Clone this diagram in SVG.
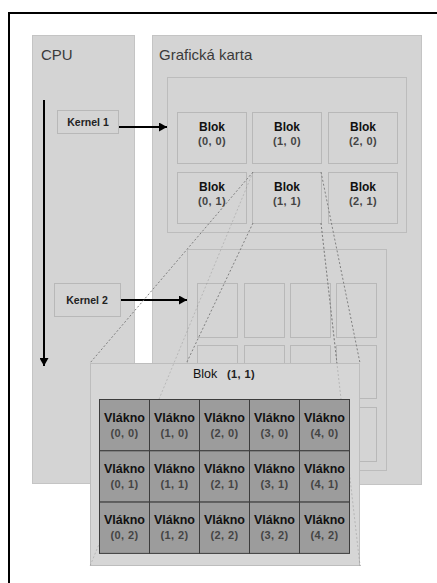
<svg xmlns="http://www.w3.org/2000/svg" width="437" height="583" viewBox="0 0 437 583">
<style>
.panel{fill:#d4d4d4;stroke:#c4c4c4;stroke-width:1}
.inner{fill:#d4d4d4;stroke:#bcbcbc;stroke-width:1}
.box{fill:#d4d4d4;stroke:#b8b8b8;stroke-width:1}
.title{font-family:"Liberation Sans",Arial,sans-serif;font-size:15px;fill:#3a3a3a}
.kern{font-family:"Liberation Sans",Arial,sans-serif;font-size:10.5px;font-weight:bold;fill:#222;text-anchor:middle}
.blk{font-family:"Liberation Sans",Arial,sans-serif;font-size:12px;font-weight:bold;fill:#111;text-anchor:middle}
.crd{font-family:"Liberation Sans",Arial,sans-serif;font-size:11px;font-weight:bold;fill:#444;text-anchor:middle;letter-spacing:0.4px}
.vl{font-family:"Liberation Sans",Arial,sans-serif;font-size:12.5px;font-weight:bold;fill:#111;text-anchor:middle}
.cell{fill:#9c9c9c;stroke:#3c3c3c;stroke-width:1}
.dash{stroke:#808080;stroke-width:1;stroke-dasharray:2,2;fill:none}
.arrow{stroke:#000;stroke-width:2;fill:none}
</style>
<defs>
<marker id="ah" markerUnits="userSpaceOnUse" markerWidth="8" markerHeight="9" refX="8" refY="4.5" orient="auto">
<path d="M0,0 L8,4.5 L0,9 z" fill="#000"/>
</marker>
</defs>
<rect x="0" y="0" width="437" height="583" fill="#fff"/>
<path d="M9,583 L9,13 L437,13" stroke="#000" stroke-width="2" fill="none"/>

<g id="cpu">
<rect class="panel" x="32.5" y="35.5" width="102" height="448"/>
<text class="title" x="41" y="60">CPU</text>
</g>
<g id="gpu">
<rect class="panel" x="152.5" y="35.5" width="269" height="449"/>
<text class="title" x="159" y="60">Grafická karta</text>
</g>
<g id="grid1">
<rect class="inner" x="167.5" y="77.5" width="239" height="155"/>
</g>
<g id="blok00"><rect class="box" x="177.5" y="112.5" width="69" height="51"/><text class="blk" x="212" y="131">Blok</text><text class="crd" x="212" y="145">(0, 0)</text></g>
<g id="blok10"><rect class="box" x="252.5" y="112.5" width="69" height="51"/><text class="blk" x="287" y="131">Blok</text><text class="crd" x="287" y="145">(1, 0)</text></g>
<g id="blok20"><rect class="box" x="328.5" y="112.5" width="69" height="51"/><text class="blk" x="363" y="131">Blok</text><text class="crd" x="363" y="145">(2, 0)</text></g>
<g id="blok01"><rect class="box" x="177.5" y="172.5" width="69" height="51"/><text class="blk" x="212" y="191">Blok</text><text class="crd" x="212" y="205">(0, 1)</text></g>
<g id="blok11"><rect class="box" x="252.5" y="172.5" width="69" height="51"/><text class="blk" x="287" y="191">Blok</text><text class="crd" x="287" y="205">(1, 1)</text></g>
<g id="blok21"><rect class="box" x="328.5" y="172.5" width="69" height="51"/><text class="blk" x="363" y="191">Blok</text><text class="crd" x="363" y="205">(2, 1)</text></g>

<g id="grid2">
<rect class="inner" x="187.5" y="249.5" width="199" height="221"/>
<rect class="box" x="197.5" y="283.5" width="40" height="54"/>
<rect class="box" x="244.5" y="283.5" width="40" height="54"/>
<rect class="box" x="290.5" y="283.5" width="40" height="54"/>
<rect class="box" x="336.5" y="283.5" width="40" height="54"/>
<rect class="box" x="197.5" y="345.5" width="40" height="53"/>
<rect class="box" x="244.5" y="345.5" width="40" height="53"/>
<rect class="box" x="290.5" y="345.5" width="40" height="53"/>
<rect class="box" x="336.5" y="345.5" width="40" height="53"/>
<rect class="box" x="197.5" y="407.5" width="40" height="54"/>
<rect class="box" x="244.5" y="407.5" width="40" height="54"/>
<rect class="box" x="290.5" y="407.5" width="40" height="54"/>
<rect class="box" x="336.5" y="407.5" width="40" height="54"/>
</g>

<g id="kernel1"><rect class="box" x="57.5" y="110.5" width="61" height="23"/><text class="kern" x="88" y="126">Kernel 1</text></g>
<g id="kernel2"><rect class="box" x="54.5" y="283.5" width="66" height="33"/><text class="kern" x="87" y="304">Kernel 2</text></g>

<g id="connectors">
<line class="arrow" x1="44" y1="100" x2="44" y2="366" stroke-width="1.6" marker-end="url(#ah)"/>
<line class="arrow" x1="119" y1="127" x2="167" y2="127" marker-end="url(#ah)"/>
<line class="arrow" x1="121" y1="300" x2="187" y2="300" marker-end="url(#ah)"/>
<g id="zoomlines">
<line class="dash" x1="253" y1="172" x2="90" y2="363"/>
<line class="dash" x1="253" y1="223" x2="90" y2="566"/>
<line class="dash" x1="321" y1="172" x2="360" y2="363"/>
<line class="dash" x1="321" y1="223" x2="360" y2="566" stroke="#666"/>
</g>
</g>

<g id="blok11-detail">
<rect x="90.5" y="363.5" width="269" height="202" fill="#d6d6d6" stroke="#bdbdbd"/>
<g opacity="0.35">
<line class="dash" x1="253" y1="172" x2="90" y2="566"/>
<line class="dash" x1="321" y1="223" x2="360" y2="566"/>
</g>
<text x="193" y="378" font-family="'Liberation Sans',Arial,sans-serif" font-size="12.5" fill="#111">Blok</text>
<text x="227" y="378" font-family="'Liberation Sans',Arial,sans-serif" font-size="11" font-weight="bold" fill="#222" letter-spacing="0.4">(1, 1)</text>
</g>

<g id="threads">
<g id="t00"><rect class="cell" x="99.5" y="399.5" width="50" height="51.3"/><text class="vl" x="124.5" y="422">Vlákno</text><text class="crd" x="124.5" y="437">(0, 0)</text></g>
<g id="t10"><rect class="cell" x="149.5" y="399.5" width="50" height="51.3"/><text class="vl" x="174.5" y="422">Vlákno</text><text class="crd" x="174.5" y="437">(1, 0)</text></g>
<g id="t20"><rect class="cell" x="199.5" y="399.5" width="50" height="51.3"/><text class="vl" x="224.5" y="422">Vlákno</text><text class="crd" x="224.5" y="437">(2, 0)</text></g>
<g id="t30"><rect class="cell" x="249.5" y="399.5" width="50" height="51.3"/><text class="vl" x="274.5" y="422">Vlákno</text><text class="crd" x="274.5" y="437">(3, 0)</text></g>
<g id="t40"><rect class="cell" x="299.5" y="399.5" width="50" height="51.3"/><text class="vl" x="324.5" y="422">Vlákno</text><text class="crd" x="324.5" y="437">(4, 0)</text></g>
<g id="t01"><rect class="cell" x="99.5" y="450.8" width="50" height="51.3"/><text class="vl" x="124.5" y="473">Vlákno</text><text class="crd" x="124.5" y="488">(0, 1)</text></g>
<g id="t11"><rect class="cell" x="149.5" y="450.8" width="50" height="51.3"/><text class="vl" x="174.5" y="473">Vlákno</text><text class="crd" x="174.5" y="488">(1, 1)</text></g>
<g id="t21"><rect class="cell" x="199.5" y="450.8" width="50" height="51.3"/><text class="vl" x="224.5" y="473">Vlákno</text><text class="crd" x="224.5" y="488">(2, 1)</text></g>
<g id="t31"><rect class="cell" x="249.5" y="450.8" width="50" height="51.3"/><text class="vl" x="274.5" y="473">Vlákno</text><text class="crd" x="274.5" y="488">(3, 1)</text></g>
<g id="t41"><rect class="cell" x="299.5" y="450.8" width="50" height="51.3"/><text class="vl" x="324.5" y="473">Vlákno</text><text class="crd" x="324.5" y="488">(4, 1)</text></g>
<g id="t02"><rect class="cell" x="99.5" y="502.1" width="50" height="51.3"/><text class="vl" x="124.5" y="524">Vlákno</text><text class="crd" x="124.5" y="539">(0, 2)</text></g>
<g id="t12"><rect class="cell" x="149.5" y="502.1" width="50" height="51.3"/><text class="vl" x="174.5" y="524">Vlákno</text><text class="crd" x="174.5" y="539">(1, 2)</text></g>
<g id="t22"><rect class="cell" x="199.5" y="502.1" width="50" height="51.3"/><text class="vl" x="224.5" y="524">Vlákno</text><text class="crd" x="224.5" y="539">(2, 2)</text></g>
<g id="t32"><rect class="cell" x="249.5" y="502.1" width="50" height="51.3"/><text class="vl" x="274.5" y="524">Vlákno</text><text class="crd" x="274.5" y="539">(3, 2)</text></g>
<g id="t42"><rect class="cell" x="299.5" y="502.1" width="50" height="51.3"/><text class="vl" x="324.5" y="524">Vlákno</text><text class="crd" x="324.5" y="539">(4, 2)</text></g>
</g>
</svg>
